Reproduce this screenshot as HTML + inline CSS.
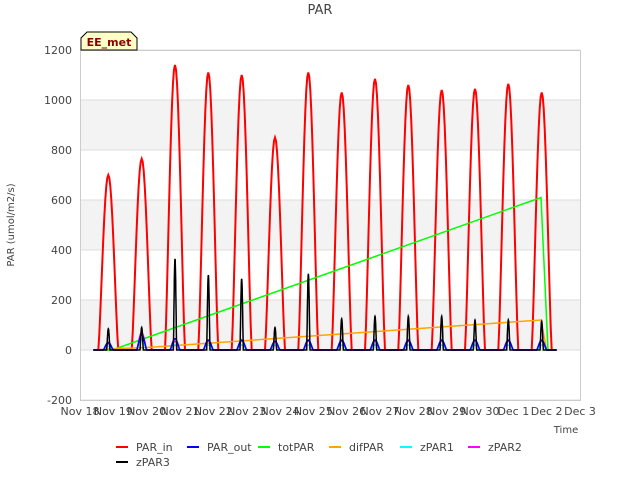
<!DOCTYPE html>
<html><head><meta charset="utf-8"><style>
body{margin:0;background:#fff;font-family:"Liberation Sans","DejaVu Sans",sans-serif;}
svg text{font-family:"DejaVu Sans","Liberation Sans",sans-serif;fill:#444;}
</style></head><body>
<svg id="c" width="640" height="480">
<rect x="0" y="0" width="640" height="480" fill="#fff"/>
<text x="320" y="14" text-anchor="middle" font-size="13">PAR</text>
<g id="bands"></g><g id="grid"></g>
<g id="series"></g>
<rect x="80.5" y="50.5" width="500" height="350" fill="none" stroke="#ccc"/>
<g id="axes"></g>
<g>
<path d="M81,50 L81,38 L87,32 L131,32 L137,38 L137,50 Z" fill="#ffffc8" stroke="#000"/>
<text x="109" y="46" text-anchor="middle" font-size="11" font-weight="bold" style="fill:#8b0000">EE_met</text>
</g>
<text x="14" y="225" transform="rotate(-90 14 225)" text-anchor="middle" font-size="10">PAR (umol/m2/s)</text>
<text x="566" y="433" text-anchor="middle" font-size="10">Time</text>
<g id="legend"></g>
</svg>
<script>
const yTicks=[-200,0,200,400,600,800,1000,1200];
const xLabels=["Nov 18","Nov 19","Nov 20","Nov 21","Nov 22","Nov 23","Nov 24","Nov 25","Nov 26","Nov 27","Nov 28","Nov 29","Nov 30","Dec 1","Dec 2","Dec 3"];
const dayIdx=[1,2,3,4,5,6,7,8,9,10,11,12,13,14];
const parInPeak=[700,765,1140,1110,1100,850,1110,1030,1085,1060,1040,1045,1065,1030];
const parOutPeak=[30,60,45,40,40,35,40,40,40,40,40,40,40,40];
const zPar3Peak=[85,90,365,300,285,90,305,125,135,135,135,120,120,115];
const zPar1Peak=[15,40,20,20,20,20,20,20,20,20,20,20,20,20];
const zPar2Peak=[25,70,35,35,35,30,35,35,35,35,35,35,35,35];
const totDays=[0.4,0.96,13.83,14.04,14.3];
const totVals=[0,0,610,0,0];
const difDays=[0.4,0.96,2.0,13.83,14.0,14.3];
const difVals=[0,5,10,120,0,0];
const X=d=>80+d*500/15, Y=v=>350-v*0.25;
const NS="http://www.w3.org/2000/svg";
function el(t,a,p){const e=document.createElementNS(NS,t);for(const k in a)e.setAttribute(k,a[k]);document.getElementById(p).appendChild(e);return e;}
yTicks.forEach((v,i)=>{
 if(i<yTicks.length-1&&i%2==1){const b=el('rect',{x:80,y:Y(yTicks[i+1]),width:500,height:Y(v)-Y(yTicks[i+1]),fill:'#f3f3f3'},'bands');
 
 }
 const l=el('line',{x1:80,x2:580,y1:Y(v),y2:Y(v),stroke:'#ddd'},'grid');
 
 
 const t=el('text',{x:72,y:Y(v)+4,'text-anchor':'end','font-size':'11'},'axes');t.textContent=v;
 
 
});
xLabels.forEach((s,i)=>{const t=el('text',{x:X(i),y:415,'text-anchor':'middle','font-size':'11'},'axes');t.textContent=s;
 
 });
function daily(peaks,w,color,name,sw){
 let pts=[[0.4,0]];
 dayIdx.forEach((d,i)=>{const c=d-0.15;pts.push([c-w-0.01,0]);
  for(let k=0;k<=20;k++){const t=-w+2*w*k/20;pts.push([c+t,peaks[i]*Math.pow(Math.cos(Math.PI/2*t/w),1.3)]);}
  pts.push([c+w+0.01,0]);});
 pts.push([14.3,0]);
 const p=el('polyline',{points:pts.map(q=>X(q[0]).toFixed(1)+','+Y(q[1]).toFixed(1)).join(' '),fill:'none',stroke:color,'stroke-width':sw},'series');
 
 
}
function line(ds,vs,color,name){const p=el('polyline',{points:ds.map((d,i)=>X(d)+','+Y(vs[i])).join(' '),fill:'none',stroke:color,'stroke-width':1.5},'series');
 
 }
daily(parInPeak,0.3,'#ff0000','par-in-line',2);
line(totDays,totVals,'#00ff00','totpar-line');
line(difDays,difVals,'#ffa500','difpar-line');
daily(zPar1Peak,0.15,'#00ffff','zpar1-line',1.5);
daily(zPar2Peak,0.15,'#ff00ff','zpar2-line',1.5);
daily(parOutPeak,0.15,'#0000ff','par-out-line',1.5);
daily(zPar3Peak,0.05,'#000000','zpar3-line',1.5);
const leg=[["PAR_in","#ff0000"],["PAR_out","#0000ff"],["totPAR","#00ff00"],["difPAR","#ffa500"],["zPAR1","#00ffff"],["zPAR2","#ff00ff"],["zPAR3","#000000"]];
const lx=[116,187,258,329,400,468,116];
leg.forEach((e,i)=>{const y=i<6?447:462;
 const g=el('g',{},'legend');
 
 
 const l=document.createElementNS(NS,'line');[['x1',lx[i]],['x2',lx[i]+12],['y1',y],['y2',y],['stroke',e[1]],['stroke-width',2]].forEach(a=>l.setAttribute(a[0],a[1]));g.appendChild(l);
 const t=document.createElementNS(NS,'text');t.setAttribute('x',lx[i]+20);t.setAttribute('y',y+4);t.setAttribute('font-size','11');t.textContent=e[0];g.appendChild(t);});
</script>
</body></html>
